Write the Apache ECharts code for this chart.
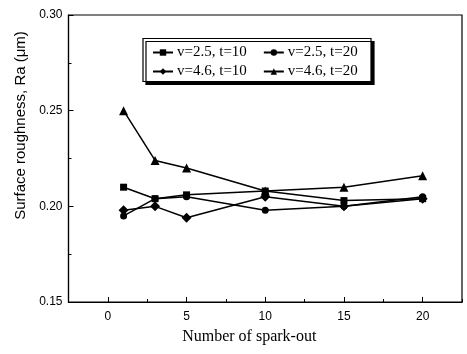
<!DOCTYPE html>
<html><head><meta charset="utf-8">
<script src="https://cdn.jsdelivr.net/npm/echarts@6/dist/echarts.min.js"></script>
<style>html,body{margin:0;padding:0;background:#fff}#c{width:467px;height:354px}</style>
</head><body><div id="c"></div>
<script>
const xValues = [1, 3, 5, 10, 15, 20];
const s1 = [0.210, 0.204, 0.206, 0.208, 0.203, 0.204]; // v=2.5, t=10
const s2 = [0.195, 0.204, 0.205, 0.198, 0.200, 0.205]; // v=2.5, t=20
const s3 = [0.198, 0.200, 0.194, 0.205, 0.200, 0.204]; // v=4.6, t=10
const s4 = [0.250, 0.224, 0.220, 0.208, 0.210, 0.216]; // v=4.6, t=20
const names = ['v=2.5, t=10', 'v=2.5, t=20', 'v=4.6, t=10', 'v=4.6, t=20'];
const xTicks = [0, 5, 10, 15, 20];

const chart = echarts.init(document.getElementById('c'));
const sans = 'Liberation Sans';
const serif = 'Liberation Serif';
function mk(name, vals, sym, size) {
  return {
    name: name, type: 'line', xAxisIndex: 0,
    data: xValues.map((x, i) => [x, vals[i]]),
    symbol: sym, symbolSize: size,
    itemStyle: { color: '#000' },
    lineStyle: { color: '#000', width: 1.5 },
    animation: false
  };
}
const legendCommon = {
  left: 152, itemGap: 16, itemWidth: 20, itemHeight: 8, padding: 0, z: 20,
  textStyle: { fontFamily: serif, fontSize: 15, color: '#000', padding: [0, 0, 0, -1] }
};
chart.setOption({
  animation: false,
  grid: { left: 68.5, top: 15, right: 5, bottom: 52, show: true, borderColor: '#000', borderWidth: 1.2 },
  xAxis: [{
    type: 'value', min: -2.5, max: 22.5,
    name: 'Number of spark-out', nameLocation: 'middle', nameGap: 27,
    nameTextStyle: { fontFamily: serif, fontSize: 16, color: '#000', padding: [0, 32, 0, 0] },
    axisLine: { onZero: false, lineStyle: { color: '#000', width: 1.2 } },
    axisTick: { inside: true, length: 5, customValues: xTicks, lineStyle: { color: '#000' } },
    axisLabel: { customValues: xTicks, fontFamily: sans, fontSize: 12, color: '#000', margin: 9 },
    splitLine: { show: false }
  }, {
    type: 'value', min: -2.5, max: 22.5, interval: 2.5, position: 'bottom',
    axisLine: { show: false, onZero: false },
    axisTick: { inside: true, length: 3, lineStyle: { color: '#000' } },
    axisLabel: { show: false }, splitLine: { show: false }
  }],
  yAxis: {
    type: 'value', min: 0.15, max: 0.30, interval: 0.05,
    name: 'Surface roughness, Ra (\u03bcm)', nameLocation: 'middle', nameGap: 39,
    nameTextStyle: { fontFamily: sans, fontSize: 15, color: '#000', padding: [0, 0, 0, 66] },
    axisLine: { onZero: false, lineStyle: { color: '#000', width: 1.2 } },
    axisTick: { inside: true, length: 5, lineStyle: { color: '#000' } },
    minorTick: { show: true, splitNumber: 2, length: 3, lineStyle: { color: '#000' } },
    axisLabel: { fontFamily: sans, fontSize: 12, color: '#000', formatter: v => v.toFixed(2), margin: 6 },
    splitLine: { show: false }
  },
  graphic: [{
    type: 'rect', shape: { x: 143, y: 38.5, width: 228, height: 43 },
    style: { fill: '#fff', stroke: '#000', lineWidth: 1.2, shadowColor: '#000', shadowOffsetX: 3, shadowOffsetY: 3, shadowBlur: 0 },
    z: 10
  }],
  legend: [
    Object.assign({ data: names.slice(0, 2), top: 45 }, legendCommon),
    Object.assign({ data: names.slice(2, 4), top: 64 }, legendCommon)
  ],
  series: [
    mk(names[0], s1, 'rect', 7),
    mk(names[1], s2, 'circle', 7),
    mk(names[2], s3, 'diamond', 10),
    mk(names[3], s4, 'triangle', 9)
  ]
});
</script></body></html>
